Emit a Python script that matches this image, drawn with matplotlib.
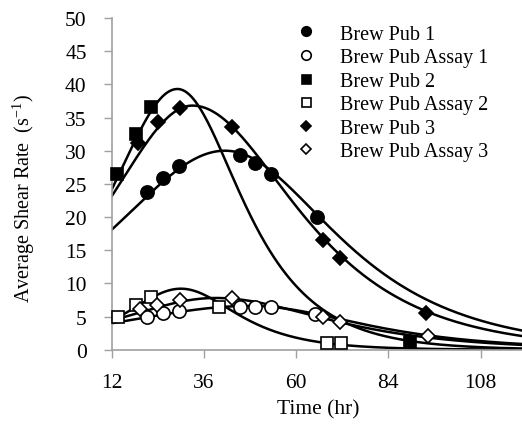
import numpy as np
import matplotlib
matplotlib.use("Agg")
import matplotlib.pyplot as plt

plt.rcParams['font.family'] = ['Liberation Serif', 'DejaVu Serif']
plt.rcParams['mathtext.fontset'] = 'custom'
plt.rcParams['mathtext.rm'] = 'Liberation Serif'

# Measured average shear rate (s^-1) versus fermentation time (hr)
series_names = ["Brew Pub 1", "Brew Pub Assay 1", "Brew Pub 2",
                "Brew Pub Assay 2", "Brew Pub 3", "Brew Pub Assay 3"]

pub1_t = [21.3, 25.4, 29.4, 45.4, 49.3, 53.4, 65.4]
pub1_y = [23.8, 25.9, 27.7, 29.4, 28.2, 26.5, 20.0]

assay1_t = [21.3, 25.4, 29.5, 45.3, 49.3, 53.4, 64.9]
assay1_y = [5.0, 5.5, 5.8, 6.5, 6.5, 6.5, 5.4]

pub2_t = [13.5, 18.2, 22.1, 89.6]
pub2_y = [26.5, 32.5, 36.6, 1.1]

assay2_t = [13.7, 18.2, 22.1, 39.9, 68.0, 71.6]
assay2_y = [5.0, 6.7, 8.0, 6.5, 1.0, 1.0]

pub3_t = [18.8, 24.0, 29.7, 43.2, 67.0, 71.4, 93.9]
pub3_y = [31.2, 34.3, 36.5, 33.5, 16.6, 13.9, 5.6]

assay3_t = [19.3, 23.9, 29.7, 43.2, 67.0, 71.4, 94.2]
assay3_y = [6.1, 6.7, 7.5, 7.75, 4.9, 4.2, 2.1]

# Fitted peak curves: peak height, peak time, rising width, falling width
fit_peak = [30.0, 6.6, 39.3, 9.2, 36.8, 7.8]
fit_tpeak = [41.5, 48.0, 29.1, 30.0, 33.0, 39.0]
fit_wrise = [27.0, 33.0, 16.0, 13.1, 20.2, 23.0]
fit_wfall = [25.5, 26.0, 14.8, 13.0, 24.0, 26.0]

x_ticks = [12, 36, 60, 84, 108]
y_ticks = list(range(0, 51, 5))


def peak_curve(t, a, t0, wl, wr):
    w = np.where(t < t0, wl, wr)
    return a / np.cosh((t - t0) / w)


fig = plt.figure(figsize=(5.22, 4.39), dpi=100)
ax = fig.add_axes([0.214, 0.2011, 0.795, 0.7556])

t_fit = np.linspace(12, 120, 600)
for a, t0, wl, wr in zip(fit_peak, fit_tpeak, fit_wrise, fit_wfall):
    ax.plot(t_fit, peak_curve(t_fit, a, t0, wl, wr), color='black', lw=1.8,
            zorder=2, clip_on=True)

styles = [
    (pub1_t, pub1_y, 'o', 'black'),
    (assay1_t, assay1_y, 'o', 'white'),
    (pub2_t, pub2_y, 's', 'black'),
    (assay2_t, assay2_y, 's', 'white'),
    (pub3_t, pub3_y, 'D', 'black'),
    (assay3_t, assay3_y, 'D', 'white'),
]
sizes = {'o': 9.5, 's': 9.0, 'D': 7.0}
for (t, y, m, fc), name in zip(styles, series_names):
    ax.plot(t, y, linestyle='none', marker=m, markersize=sizes[m],
            markerfacecolor=fc, markeredgecolor='black', markeredgewidth=1.2,
            label=name, zorder=3, clip_on=False)

ax.set_xlim(12, 120)
ax.set_ylim(0, 50)
ax.set_xticks(x_ticks)
ax.set_yticks(y_ticks)
ax.tick_params(axis='both', labelsize=15.5, direction='out', length=6,
               width=1.0, color='#a0a0a0')
ax.tick_params(axis='y', pad=12)
ax.tick_params(axis='x', pad=11)
for s in ['top', 'right']:
    ax.spines[s].set_visible(False)
for s in ['left', 'bottom']:
    ax.spines[s].set_color('#a0a0a0')
    ax.spines[s].set_linewidth(1.2)

ax.set_xlabel("Time (hr)", fontsize=15.5)
ax.set_ylabel("Average Shear Rate  (s$^{\\mathregular{-1}}$)", fontsize=14.5)
ax.xaxis.set_label_coords(0.497, -0.149)
ax.yaxis.set_label_coords(-0.181, 0.458)

leg = ax.legend(loc='upper left', bbox_to_anchor=(0.424, 1.005), frameon=False,
                fontsize=14.5, markerscale=0.72, handletextpad=1.2,
                labelspacing=0.22, borderaxespad=0.0, handlelength=1.0)

fig.savefig("out.png", dpi=100)
